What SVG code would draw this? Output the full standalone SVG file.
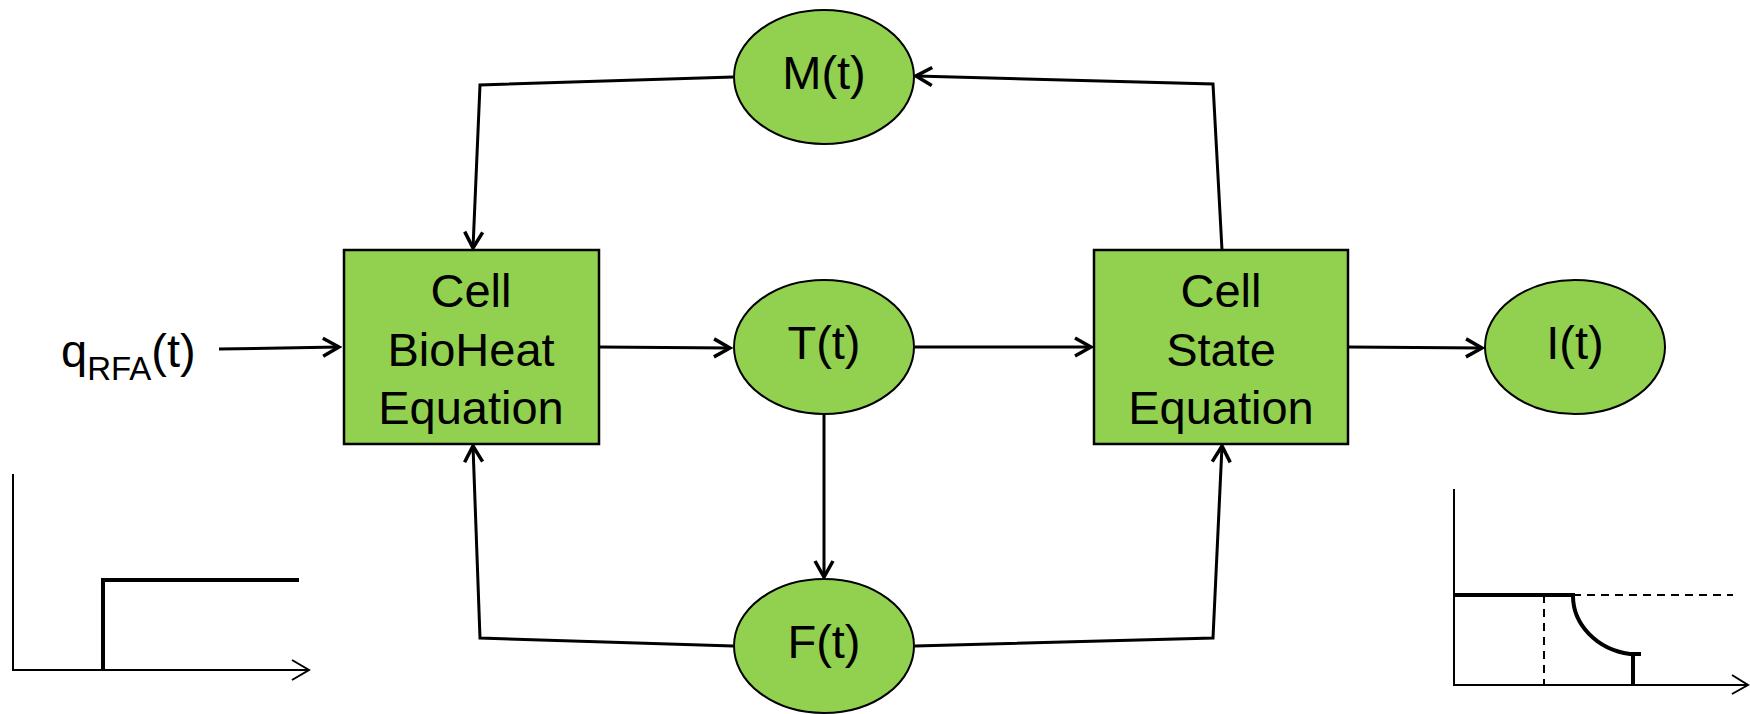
<svg xmlns="http://www.w3.org/2000/svg" width="1750" height="714" viewBox="0 0 1750 714">
<style>
.box{fill:#92D050;stroke:#000;stroke-width:2.5}
.ell{fill:#92D050;stroke:#000;stroke-width:2}
.t{font-family:"Liberation Sans",Arial,sans-serif;font-size:47px;fill:#000;text-anchor:middle}
.c{fill:none;stroke:#000;stroke-width:3;stroke-linejoin:miter}
.ax{fill:none;stroke:#000;stroke-width:2}
.th{fill:none;stroke:#000;stroke-width:4}
.ds{fill:none;stroke:#000;stroke-width:2;stroke-dasharray:8,6}
</style>
<defs>
<marker id="arr" viewBox="0 0 22 22" refX="19" refY="11" markerWidth="22" markerHeight="22" markerUnits="userSpaceOnUse" orient="auto">
<path d="M3,2 L19,11 L3,20" fill="none" stroke="#000" stroke-width="3.5"/>
</marker>
</defs>
<g id="connectors">
<path class="c" d="M219,349 L339,347" marker-end="url(#arr)"/>
<path class="c" d="M599,347 L730,348" marker-end="url(#arr)"/>
<path class="c" d="M915,347 L1091,347" marker-end="url(#arr)"/>
<path class="c" d="M1348,347 L1482,348" marker-end="url(#arr)"/>
<path class="c" d="M824,415 L824,577" marker-end="url(#arr)"/>
<path class="c" d="M733,77 L480,85 L473,248" marker-end="url(#arr)"/>
<path class="c" d="M1222,250 L1213,84 L916,76" marker-end="url(#arr)"/>
<path class="c" d="M733,646 L480,638 L473,446" marker-end="url(#arr)"/>
<path class="c" d="M915,646 L1213,638 L1222,446" marker-end="url(#arr)"/>
</g>
<g id="box-bioheat">
<rect class="box" x="344" y="250" width="255" height="194"/>
<text class="t" x="471" y="307">Cell</text>
<text class="t" x="471" y="366">BioHeat</text>
<text class="t" x="471" y="424">Equation</text>
</g>
<g id="box-state">
<rect class="box" x="1094" y="250" width="254" height="194"/>
<text class="t" x="1221" y="307">Cell</text>
<text class="t" x="1221" y="366">State</text>
<text class="t" x="1221" y="424">Equation</text>
</g>
<g id="node-M">
<ellipse class="ell" cx="824" cy="77" rx="90" ry="67"/>
<text class="t" x="824" y="89">M(t)</text>
</g>
<g id="node-T">
<ellipse class="ell" cx="824" cy="347" rx="90" ry="67"/>
<text class="t" x="824" y="359">T(t)</text>
</g>
<g id="node-F">
<ellipse class="ell" cx="824" cy="646" rx="90" ry="67"/>
<text class="t" x="824" y="658">F(t)</text>
</g>
<g id="node-I">
<ellipse class="ell" cx="1575" cy="347" rx="90" ry="67"/>
<text class="t" x="1575" y="359">I(t)</text>
</g>
<g id="input-q">
<text x="61" y="367" style="font-family:'Liberation Sans',Arial,sans-serif;font-size:47px;fill:#000">q<tspan font-size="33" dy="13">RFA</tspan><tspan dy="-13">(t)</tspan></text>
</g>
<g id="graph-input">
<path class="ax" d="M13,474 L13,670 L309,670"/>
<path class="ax" d="M292,660 L309,670 L292,680"/>
<path class="th" d="M103,670 L103,580 L299,580"/>
</g>
<g id="graph-output">
<path class="ax" d="M1454,489 L1454,685 L1748,685"/>
<path class="ax" d="M1732,675 L1748,685 L1732,694"/>
<path class="ds" d="M1573,595 L1733,595"/>
<path class="ds" d="M1544,595 L1544,685"/>
<path class="th" d="M1454,595 L1573,595 A67 59 0 0 0 1630,654 L1641,654 M1633,654 L1633,685"/>
</g>
</svg>
